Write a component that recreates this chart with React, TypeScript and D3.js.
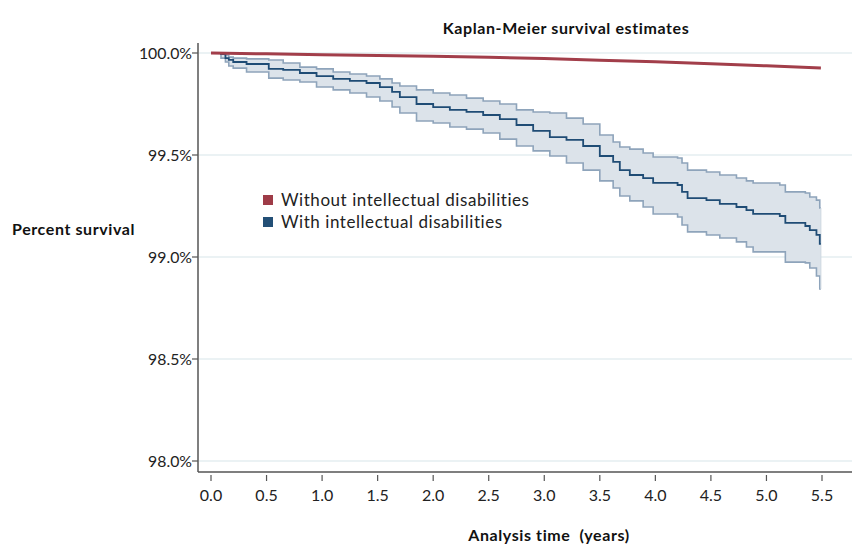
import React, { useRef, useEffect } from 'react';
import * as d3 from 'd3';

// event times (years) for the group with intellectual disabilities
const eventTimes = [
  0, 0.09, 0.13, 0.16, 0.2, 0.32, 0.52, 0.65, 0.8, 0.95, 1.1, 1.25, 1.4, 1.52, 1.63, 1.7,
  1.85, 2.0, 2.15, 2.3, 2.45, 2.6, 2.75, 2.9, 3.05, 3.2, 3.35, 3.5, 3.62, 3.68, 3.77, 3.89,
  3.98, 4.2, 4.24, 4.29, 4.46, 4.58, 4.73, 4.82, 4.88, 5.12, 5.17, 5.35, 5.39, 5.45, 5.48,
];
const survWith = [
  100, 99.995, 99.975, 99.966, 99.956, 99.946, 99.922, 99.917, 99.902, 99.887, 99.873, 99.863,
  99.853, 99.833, 99.809, 99.784, 99.75, 99.735, 99.721, 99.711, 99.696, 99.676, 99.647, 99.618,
  99.588, 99.574, 99.544, 99.495, 99.466, 99.426, 99.402, 99.387, 99.363, 99.353, 99.319, 99.289,
  99.279, 99.26, 99.245, 99.23, 99.211, 99.201, 99.167, 99.152, 99.132, 99.108, 99.064,
];
const upperWith = [
  100, 100, 99.99, 99.98, 99.975, 99.971, 99.966, 99.951, 99.931, 99.922, 99.907, 99.897,
  99.887, 99.873, 99.853, 99.838, 99.819, 99.804, 99.794, 99.779, 99.765, 99.75, 99.721, 99.711,
  99.706, 99.681, 99.652, 99.598, 99.564, 99.539, 99.529, 99.51, 99.49, 99.485, 99.461, 99.426,
  99.417, 99.402, 99.387, 99.373, 99.363, 99.353, 99.319, 99.314, 99.294, 99.279, 99.24,
];
const lowerWith = [
  100, 99.975, 99.956, 99.936, 99.926, 99.907, 99.877, 99.868, 99.858, 99.833, 99.819, 99.804,
  99.784, 99.765, 99.735, 99.706, 99.667, 99.657, 99.637, 99.627, 99.608, 99.578, 99.544, 99.52,
  99.495, 99.461, 99.426, 99.373, 99.338, 99.299, 99.275, 99.245, 99.211, 99.196, 99.157, 99.123,
  99.108, 99.093, 99.074, 99.049, 99.025, 99.025, 98.975, 98.971, 98.946, 98.907, 98.843,
];
const followUpEnd = 5.49;

// group without intellectual disabilities
const timesWithout = [0, 0.5, 1, 1.5, 2, 2.5, 3, 3.5, 4, 4.5, 5, 5.49];
const survWithout = [100, 99.996, 99.992, 99.988, 99.984, 99.979, 99.973, 99.965, 99.957, 99.947, 99.937, 99.926];

const xTicks = [0, 0.5, 1, 1.5, 2, 2.5, 3, 3.5, 4, 4.5, 5, 5.5];
const yTicks = [98, 98.5, 99, 99.5, 100];
const legendLabels = ['Without intellectual disabilities', 'With intellectual disabilities'];
const legendColors = ['#9e3b47', '#234f76'];

const FONT = 'Lato, "Open Sans", sans-serif';

const App = () => {
  const svgRef = useRef<SVGSVGElement>(null);

  useEffect(() => {
    const svg = d3.select(svgRef.current);
    svg.selectAll('*').remove();

    const x = d3.scaleLinear().domain([0, 5.5]).range([211, 822]);
    const y = d3.scaleLinear().domain([98, 100]).range([461, 53]);

    const left = 198;
    const right = 852;
    const top = 43;
    const bottom = 472;

    // gridlines
    svg.append('g')
      .selectAll('line')
      .data(yTicks)
      .enter()
      .append('line')
      .attr('x1', left + 1)
      .attr('x2', right)
      .attr('y1', d => y(d))
      .attr('y2', d => y(d))
      .attr('stroke', '#e4eef0')
      .attr('stroke-width', 1.5);

    const withData = eventTimes.map((t, i) => ({ t, s: survWith[i], lo: lowerWith[i], hi: upperWith[i] }));
    withData.push({ ...withData[withData.length - 1], t: followUpEnd });

    const area = d3.area<any>()
      .curve(d3.curveStepAfter)
      .x(d => x(d.t))
      .y0(d => y(d.lo))
      .y1(d => y(d.hi));

    svg.append('path')
      .datum(withData)
      .attr('d', area)
      .attr('fill', '#dce3ea');

    const stepLine = (key: string) => d3.line<any>()
      .curve(d3.curveStepAfter)
      .x(d => x(d.t))
      .y(d => y(d[key]));

    ['lo', 'hi'].forEach(k => {
      svg.append('path')
        .datum(withData)
        .attr('d', stepLine(k))
        .attr('fill', 'none')
        .attr('stroke', '#8ea4bb')
        .attr('stroke-width', 1.6);
    });

    // closing edge of the band
    svg.append('line')
      .attr('x1', x(followUpEnd))
      .attr('x2', x(followUpEnd))
      .attr('y1', y(upperWith[upperWith.length - 1]))
      .attr('y2', y(lowerWith[lowerWith.length - 1]))
      .attr('stroke', '#ced7e0')
      .attr('stroke-width', 1);

    svg.append('path')
      .datum(withData)
      .attr('d', stepLine('s'))
      .attr('fill', 'none')
      .attr('stroke', '#1f4c75')
      .attr('stroke-width', 1.8);

    const withoutData = timesWithout.map((t, i) => ({ t, s: survWithout[i] }));
    svg.append('path')
      .datum(withoutData)
      .attr('d', d3.line<any>().x(d => x(d.t)).y(d => y(d.s)))
      .attr('fill', 'none')
      .attr('stroke', '#a23e4a')
      .attr('stroke-width', 3);

    // axes
    svg.append('line')
      .attr('x1', left).attr('x2', left)
      .attr('y1', top).attr('y2', bottom)
      .attr('stroke', '#555').attr('stroke-width', 1.5);
    svg.append('line')
      .attr('x1', left).attr('x2', right)
      .attr('y1', bottom).attr('y2', bottom)
      .attr('stroke', '#555').attr('stroke-width', 1.5);

    const yAxis = svg.append('g');
    yTicks.forEach(v => {
      yAxis.append('line')
        .attr('x1', left - 6).attr('x2', left)
        .attr('y1', y(v)).attr('y2', y(v))
        .attr('stroke', '#555').attr('stroke-width', 1.2);
      yAxis.append('text')
        .attr('x', left - 6)
        .attr('y', y(v))
        .attr('dy', '0.35em')
        .attr('text-anchor', 'end')
        .style('font-family', FONT)
        .style('font-size', '15.8px')
        .style('fill', '#222')
        .text(d3.format('.1f')(v) + '%');
    });

    const xAxis = svg.append('g');
    xTicks.forEach(v => {
      xAxis.append('line')
        .attr('x1', x(v)).attr('x2', x(v))
        .attr('y1', bottom + 3).attr('y2', bottom + 9)
        .attr('stroke', '#555').attr('stroke-width', 1.2);
      xAxis.append('text')
        .attr('x', x(v))
        .attr('y', 501)
        .attr('text-anchor', 'middle')
        .style('font-family', FONT)
        .style('font-size', '16px')
        .style('fill', '#222')
        .text(d3.format('.1f')(v));
    });

    const boldText = (tx: number, ty: number, label: string, anchor: string) =>
      svg.append('text')
        .attr('x', tx)
        .attr('y', ty)
        .attr('text-anchor', anchor)
        .attr('xml:space', 'preserve')
        .style('white-space', 'pre')
        .style('font-family', FONT)
        .style('font-size', '16px')
        .style('letter-spacing', '0.6px')
        .style('font-weight', 'bold')
        .style('fill', '#111')
        .text(label);

    boldText(566, 34, 'Kaplan-Meier survival estimates', 'middle');
    boldText(549, 541, 'Analysis time  (years)', 'middle');
    boldText(12, 235, 'Percent survival', 'start');

    const legend = svg.append('g');
    legendLabels.forEach((label, i) => {
      legend.append('rect')
        .attr('x', 263)
        .attr('y', 195 + i * 22)
        .attr('width', 10)
        .attr('height', 10)
        .attr('fill', legendColors[i]);
      legend.append('text')
        .attr('x', 281)
        .attr('y', 200 + i * 22)
        .attr('dy', '0.35em')
        .style('font-family', FONT)
        .style('font-size', '17px')
        .style('letter-spacing', '0.55px')
        .style('fill', '#222')
        .text(label);
    });
  }, []);

  return (
    <svg ref={svgRef} width={867} height={550} style={{ position: 'absolute', left: 0, top: 0, background: '#fff' }} />
  );
};

export default App;
